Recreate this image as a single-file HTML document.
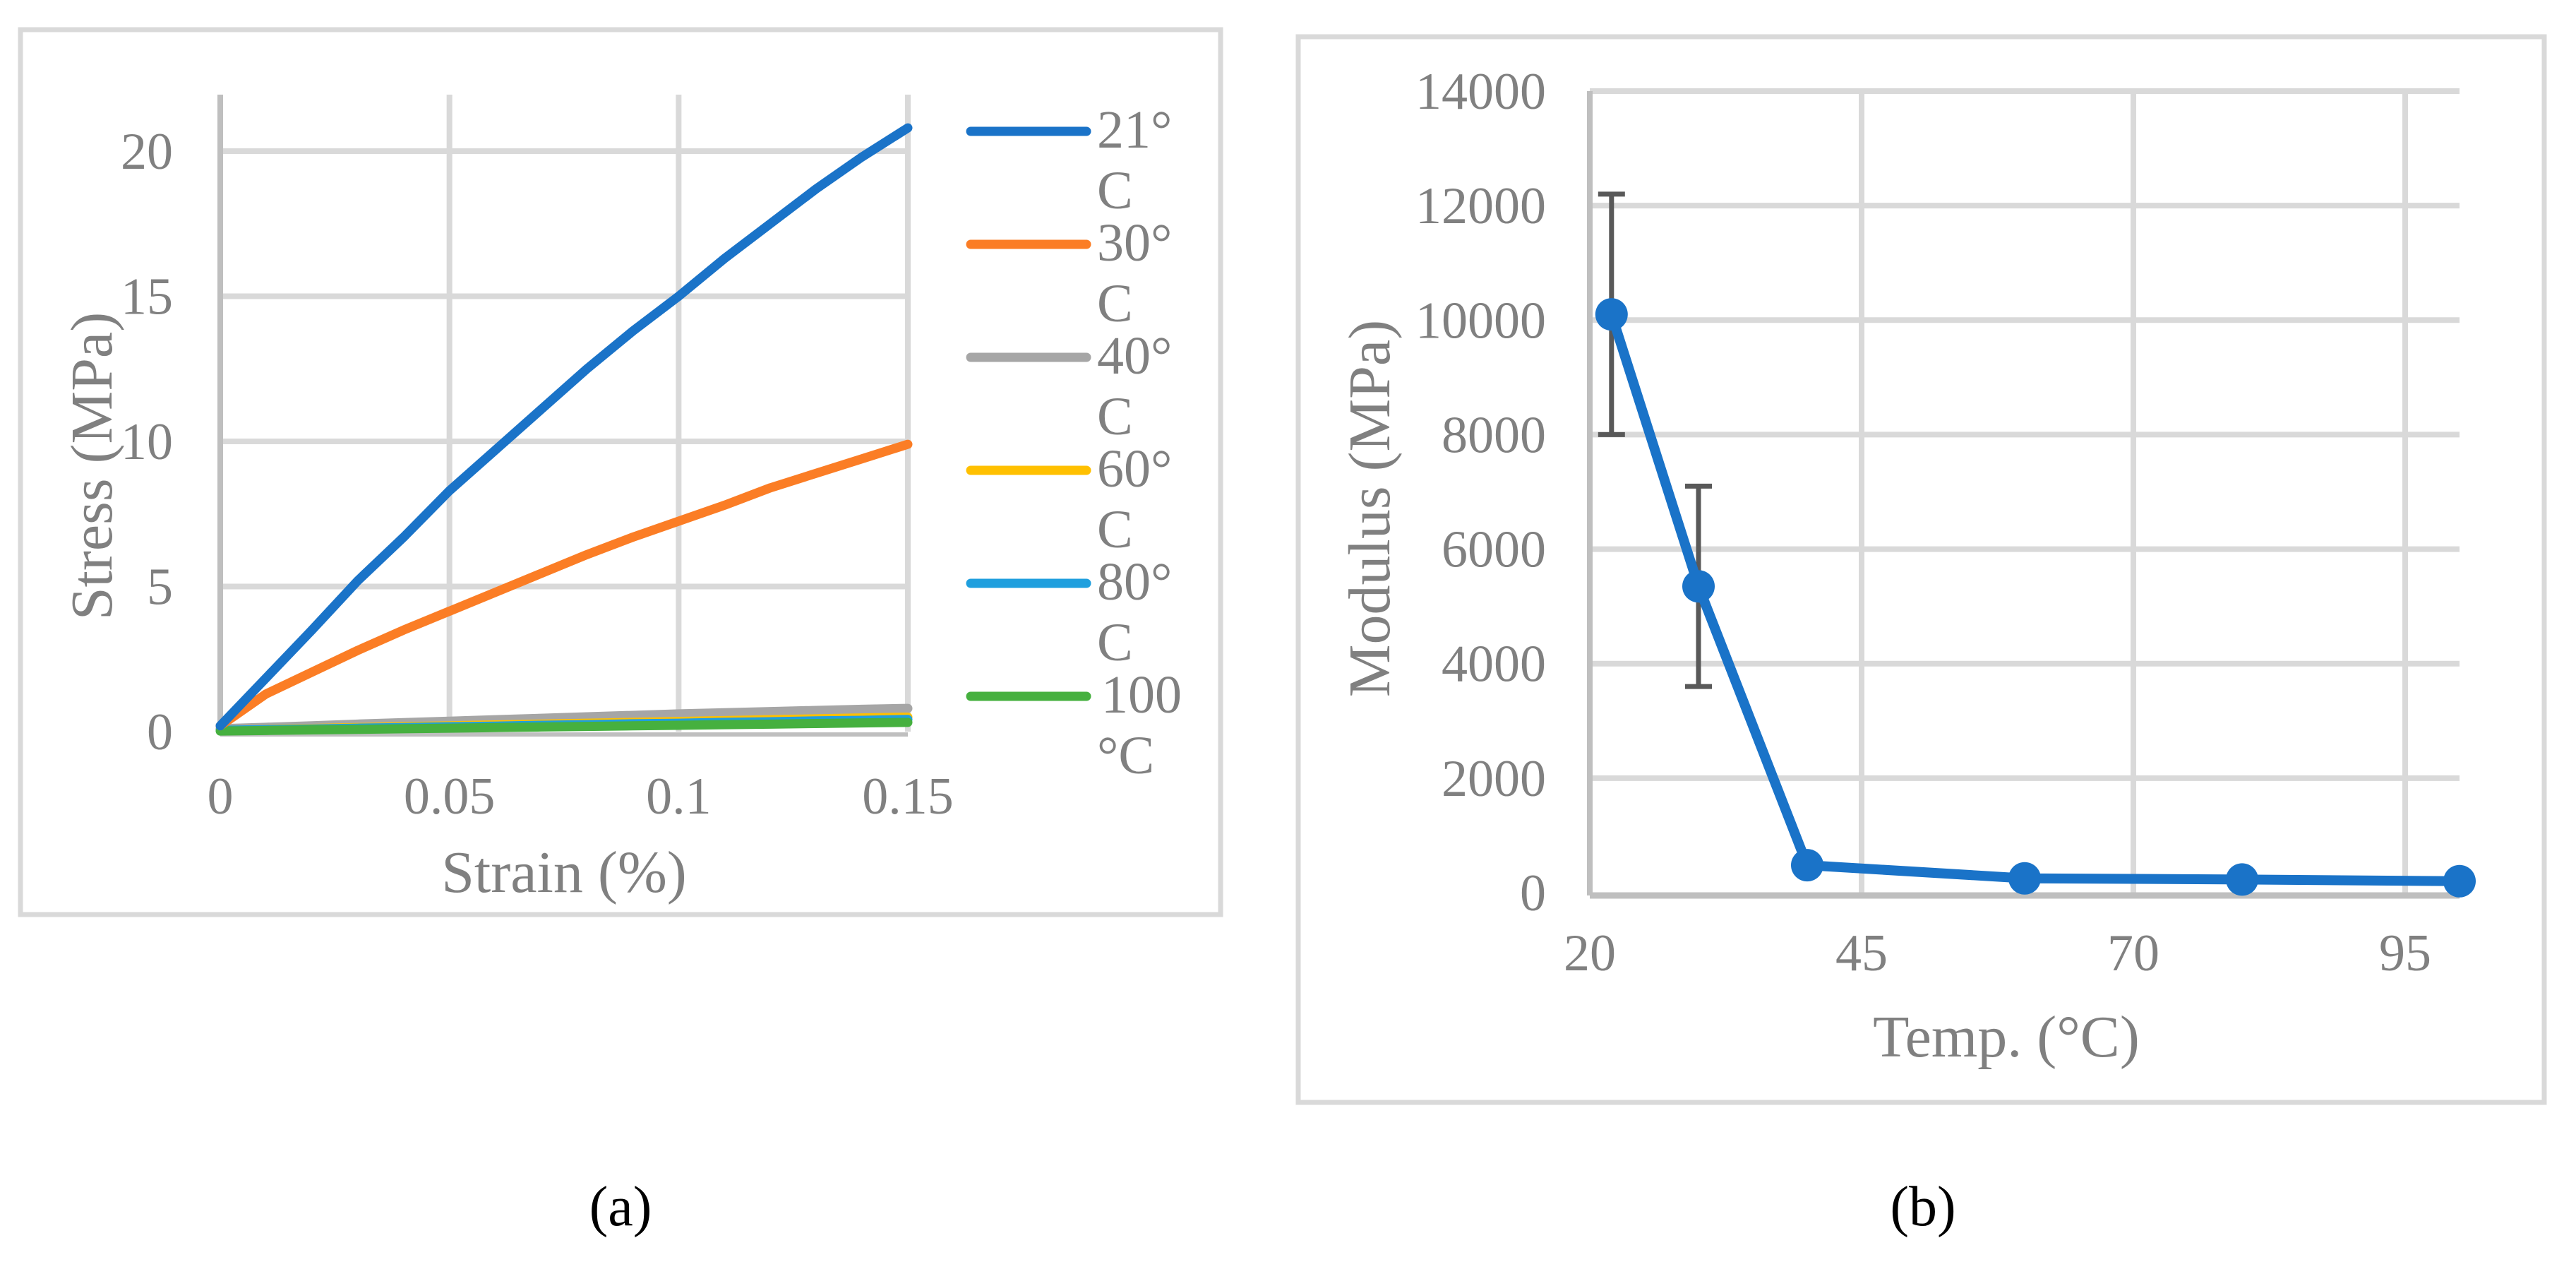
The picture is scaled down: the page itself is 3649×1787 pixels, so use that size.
<!DOCTYPE html>
<html><head><meta charset="utf-8"><style>
html,body{margin:0;padding:0;background:#fff;}
svg{display:block;font-family:"Liberation Serif",serif;}
</style></head><body>
<svg id="fig" width="3649" height="1787" viewBox="0 0 3649 1787" xmlns="http://www.w3.org/2000/svg">
<rect x="29" y="42" width="1700" height="1253" fill="#fff" stroke="#d9d9d9" stroke-width="7"/>
<rect x="1839" y="52" width="1765" height="1509" fill="#fff" stroke="#d9d9d9" stroke-width="7"/>
<g id="chartA"></g>
<g id="chartB"></g>
<text x="879" y="1735" font-size="80" text-anchor="middle" fill="#000">(a)</text>
<text x="2724" y="1735" font-size="80" text-anchor="middle" fill="#000">(b)</text>
</svg>
<script>
// ---- Panel (a) data ----
const strainCats = [0,0.01,0.02,0.03,0.04,0.05,0.06,0.07,0.08,0.09,0.10,0.11,0.12,0.13,0.14,0.15];
const stress21 = [0.2,1.85,3.5,5.2,6.7,8.3,9.7,11.1,12.5,13.8,15.0,16.3,17.5,18.7,19.8,20.8];
const stress30 = [0.2,1.3,2.05,2.8,3.5,4.15,4.8,5.45,6.1,6.7,7.25,7.8,8.4,8.9,9.4,9.9];
const stress40 = [0.1,0.15,0.2,0.26,0.31,0.36,0.41,0.46,0.51,0.56,0.61,0.65,0.69,0.73,0.77,0.8];
const stress60 = [0.05,0.08,0.11,0.14,0.17,0.2,0.23,0.26,0.29,0.32,0.35,0.38,0.41,0.44,0.47,0.5];
const stress80 = [0.05,0.07,0.09,0.12,0.14,0.17,0.19,0.22,0.24,0.27,0.29,0.32,0.34,0.37,0.39,0.42];
const stress100 = [0.02,0.04,0.06,0.08,0.1,0.12,0.14,0.16,0.18,0.2,0.22,0.24,0.26,0.28,0.3,0.32];
const seriesALabels = ["21°C","30°C","40°C","60°C","80°C","100 °C"];
const seriesAColors = ["#1a73c8","#fb7d25","#a6a6a6","#ffc000","#1f9fde","#46b03f"];
const xTicksA = [0,0.05,0.1,0.15];
const xTickLabelsA = ["0","0.05","0.1","0.15"];
const yTicksA = [0,5,10,15,20];
// ---- Panel (b) data ----
const temps = [22,30,40,60,80,100];
const modulus = [10100,5350,480,250,230,200];
const errLow = [8000,3600,null,null,null,null];
const errHigh = [12200,7100,null,null,null,null];
const xTicksB = [20,45,70,95];
const yTicksB = [0,2000,4000,6000,8000,10000,12000,14000];

const NS="http://www.w3.org/2000/svg";
function mk(parent,tag,attrs){const e=document.createElementNS(NS,tag);for(const k in attrs)e.setAttribute(k,attrs[k]);parent.appendChild(e);return e;}
const gray="#808080";

// Panel A
const A=document.getElementById('chartA');
const ax=v=>312+(v-0)/0.15*(1286-312);
const ay=v=>1036-v/20*(1036-214);
for(const t of xTicksA){ if(t===0) continue;
  const l=mk(A,'line',{x1:ax(t),x2:ax(t),y1:134,y2:ay(0),stroke:"#d9d9d9","stroke-width":8});
   }
for(const t of yTicksA){ if(t===0) continue;
  const l=mk(A,'line',{x1:ax(0),x2:ax(0.15)+4,y1:ay(t),y2:ay(t),stroke:"#d9d9d9","stroke-width":8});
   }
{const l=mk(A,'line',{x1:ax(0),x2:ax(0),y1:134,y2:ay(0)+4,stroke:"#bfbfbf","stroke-width":8});
 
const b=mk(A,'line',{x1:ax(0),x2:ax(0.15),y1:ay(0)+4,y2:ay(0)+4,stroke:"#bfbfbf","stroke-width":6});
 }
xTicksA.forEach((t,i)=>{const tx=mk(A,'text',{x:ax(t),y:1152,"font-size":74,fill:gray,"text-anchor":"middle"});tx.textContent=xTickLabelsA[i];
   });
yTicksA.forEach(t=>{const tx=mk(A,'text',{x:245,y:ay(t)+25,"font-size":74,fill:gray,"text-anchor":"end"});tx.textContent=String(t);
   });
const seriesA=[stress21,stress30,stress40,stress60,stress80,stress100];
const drawOrder=[2,3,4,5,1,0];
for(const s of drawOrder){
  const pts=strainCats.map((x,i)=>ax(x)+","+ay(seriesA[s][i])).join(" ");
  const p=mk(A,'polyline',{points:pts,fill:"none",stroke:seriesAColors[s],"stroke-width":13,"stroke-linejoin":"round","stroke-linecap":"round"});
   
}
seriesALabels.forEach((lab,i)=>{
  const y=186+i*160;
  const g=mk(A,'g',{});
   
  mk(g,'line',{x1:1375,x2:1539,y1:y,y2:y,stroke:seriesAColors[i],"stroke-width":13,"stroke-linecap":"round"});
  const parts = i===5 ? ["100","°C"] : [lab.replace("C",""),"C"];
  const t1=mk(g,'text',{x:i===5?1560:1554,y:y+23,"font-size":76,fill:gray});t1.textContent=parts[0];
  const t2=mk(g,'text',{x:1554,y:y+109,"font-size":76,fill:gray});t2.textContent=parts[1];
});
{const t=mk(A,'text',{x:799,y:1263,"font-size":84,fill:gray,"text-anchor":"middle"});t.textContent="Strain (%)";
 
const t2=mk(A,'text',{x:0,y:0,"font-size":84,fill:gray,"text-anchor":"middle",transform:"translate(158,660) rotate(-90)"});t2.textContent="Stress (MPa)";
 }

// Panel B
const B=document.getElementById('chartB');
const bx=v=>2252+(v-20)/80*(3484-2252);
const by=v=>1264-v/14000*(1264-129);
for(const t of xTicksB){ if(t===20) continue;
  const l=mk(B,'line',{x1:bx(t),x2:bx(t),y1:by(14000),y2:by(0),stroke:"#d9d9d9","stroke-width":8});
   }
for(const t of yTicksB){ if(t===0) continue;
  const l=mk(B,'line',{x1:bx(20),x2:bx(100),y1:by(t),y2:by(t),stroke:"#d9d9d9","stroke-width":8});
   }
{const l=mk(B,'line',{x1:bx(20),x2:bx(20),y1:by(14000),y2:by(0)+4,stroke:"#bfbfbf","stroke-width":8});
 
const b=mk(B,'line',{x1:bx(20),x2:bx(100),y1:by(0)+4,y2:by(0)+4,stroke:"#bfbfbf","stroke-width":9});
 }
xTicksB.forEach(t=>{const tx=mk(B,'text',{x:bx(t),y:1374,"font-size":74,fill:gray,"text-anchor":"middle"});tx.textContent=String(t);
   });
yTicksB.forEach(t=>{const tx=mk(B,'text',{x:2190,y:by(t)+25,"font-size":74,fill:gray,"text-anchor":"end"});tx.textContent=String(t);
   });
temps.forEach((t,i)=>{ if(errLow[i]===null) return;
  const g=mk(B,'g',{stroke:"#595959","stroke-width":7});
   
  mk(g,'line',{x1:bx(t),x2:bx(t),y1:by(errHigh[i]),y2:by(errLow[i])});
  mk(g,'line',{x1:bx(t)-19,x2:bx(t)+19,y1:by(errHigh[i]),y2:by(errHigh[i])});
  mk(g,'line',{x1:bx(t)-19,x2:bx(t)+19,y1:by(errLow[i]),y2:by(errLow[i])});
});
{const p=mk(B,'polyline',{points:temps.map((t,i)=>bx(t)+","+by(modulus[i])).join(" "),fill:"none",stroke:"#1a73c8","stroke-width":14,"stroke-linejoin":"round"});
 }
temps.forEach((t,i)=>{const c=mk(B,'circle',{cx:bx(t),cy:by(modulus[i]),r:23,fill:"#1a73c8"});
   });
{const t=mk(B,'text',{x:2842,y:1496,"font-size":84,fill:gray,"text-anchor":"middle"});t.textContent="Temp. (°C)";
 
const t2=mk(B,'text',{x:0,y:0,"font-size":84,fill:gray,"text-anchor":"middle",transform:"translate(1968,720) rotate(-90)"});t2.textContent="Modulus (MPa)";
 }
</script>
</body></html>
